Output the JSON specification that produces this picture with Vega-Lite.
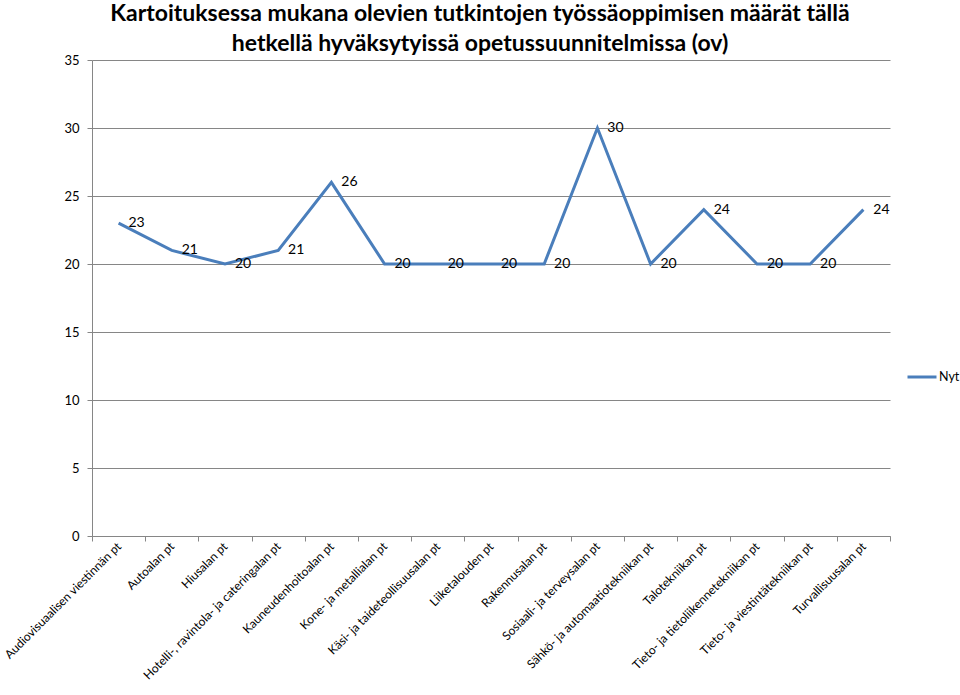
{
  "$schema": "https://vega.github.io/schema/vega-lite/v6.json",
  "autosize": "none",
  "width": 798,
  "height": 476,
  "padding": {"left": 92, "top": 60, "right": 70, "bottom": 159},
  "background": "white",
  "title": {
    "text": ["Kartoituksessa mukana olevien tutkintojen työssäoppimisen määrät tällä", "hetkellä  hyväksytyissä opetussuunnitelmissa (ov)"],
    "font": "Lato",
    "fontSize": 23,
    "fontWeight": "bold",
    "color": "black",
    "anchor": "middle",
    "dx": -11,
    "lineHeight": 30,
    "offset": -2
  },
  "data": {
    "values": [
      {"ala": "Audiovisuaalisen viestinnän pt", "arvo": 23, "sarja": "Nyt"},
      {"ala": "Autoalan pt", "arvo": 21, "sarja": "Nyt"},
      {"ala": "Hiusalan pt", "arvo": 20, "sarja": "Nyt"},
      {"ala": "Hotelli-, ravintola- ja cateringalan pt", "arvo": 21, "sarja": "Nyt"},
      {"ala": "Kauneudenhoitoalan pt", "arvo": 26, "sarja": "Nyt"},
      {"ala": "Kone- ja metallialan pt", "arvo": 20, "sarja": "Nyt"},
      {"ala": "Käsi- ja taideteollisuusalan pt", "arvo": 20, "sarja": "Nyt"},
      {"ala": "Liiketalouden pt", "arvo": 20, "sarja": "Nyt"},
      {"ala": "Rakennusalan pt", "arvo": 20, "sarja": "Nyt"},
      {"ala": "Sosiaali- ja terveysalan pt", "arvo": 30, "sarja": "Nyt"},
      {"ala": "Sähkö- ja automaatiotekniikan pt", "arvo": 20, "sarja": "Nyt"},
      {"ala": "Talotekniikan pt", "arvo": 24, "sarja": "Nyt"},
      {"ala": "Tieto- ja tietoliikennetekniikan pt", "arvo": 20, "sarja": "Nyt"},
      {"ala": "Tieto- ja viestintätekniikan pt", "arvo": 20, "sarja": "Nyt"},
      {"ala": "Turvallisuusalan pt", "arvo": 24, "sarja": "Nyt"}
    ]
  },
  "encoding": {
    "x": {
      "field": "ala",
      "type": "nominal",
      "sort": null,
      "scale": {"type": "band", "paddingInner": 0, "paddingOuter": 0},
      "axis": {
        "title": null,
        "labelAngle": -45,
        "labelAlign": "right",
        "labelBaseline": "middle",
        "labelFont": "Lato",
        "labelFontSize": 12,
        "labelColor": "black",
        "labelPadding": 3,
        "labelLimit": 300,
        "tickBand": "extent",
        "tickColor": "#868686",
        "tickSize": 5,
        "domainColor": "#868686",
        "grid": false
      }
    },
    "y": {
      "field": "arvo",
      "type": "quantitative",
      "scale": {"domain": [0, 35], "nice": false},
      "axis": {
        "title": null,
        "values": [0, 5, 10, 15, 20, 25, 30, 35],
        "labelFont": "Lato",
        "labelFontSize": 13,
        "labelColor": "black",
        "labelPadding": 8,
        "tickSize": 5,
        "tickColor": "#868686",
        "domainColor": "#868686",
        "gridColor": "#868686",
        "gridWidth": 1
      }
    }
  },
  "layer": [
    {
      "mark": {"type": "line", "strokeWidth": 3},
      "encoding": {
        "color": {
          "field": "sarja",
          "type": "nominal",
          "scale": {"range": ["#4a7ebb"]},
          "legend": {
            "title": null,
            "orient": "none",
            "legendX": 814,
            "legendY": 301,
            "symbolType": "stroke",
            "symbolSize": 841,
            "symbolStrokeWidth": 3,
            "labelFont": "Lato",
            "labelFontSize": 12.5,
            "labelColor": "black",
            "labelOffset": 1,
            "padding": 0
          }
        }
      }
    },
    {
      "mark": {"type": "text", "dx": 18, "font": "Lato", "fontSize": 14, "color": "black", "align": "center", "baseline": "middle"},
      "encoding": {"text": {"field": "arvo", "type": "quantitative"}}
    }
  ],
  "config": {"view": {"stroke": null}}
}
